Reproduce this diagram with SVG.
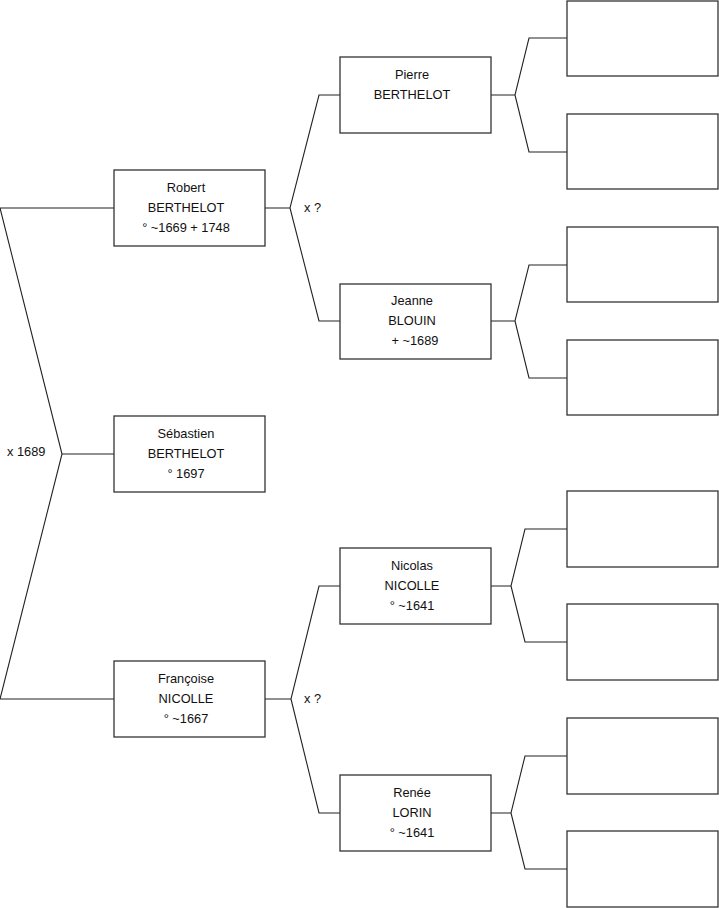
<svg xmlns="http://www.w3.org/2000/svg" width="719" height="908" viewBox="0 0 719 908">
<style>
.box{fill:#fff;stroke:#333;stroke-width:1.3}
.ln{fill:none;stroke:#222;stroke-width:1.1}
text{font-family:"Liberation Sans",Arial,sans-serif;font-size:12.8px;fill:#111}
.c{text-anchor:middle}
</style>
<rect width="719" height="908" fill="#fff"/>
<g id="connectors">
<path class="ln" d="M114,208 H0 L62,454 L0,699 H114 M62,454 H114"/>
<path class="ln" d="M265,208 H290 L319,95 H340 M290,208 L319,321 H340"/>
<path class="ln" d="M265,699 H291 L319,586 H340 M291,699 L319,813 H340"/>
<path class="ln" d="M491,95 H515 L529,38 H567 M515,95 L529,152 H567"/>
<path class="ln" d="M491,321 H515 L529,265 H567 M515,321 L529,378 H567"/>
<path class="ln" d="M491,586 H511 L525,529 H567 M511,586 L525,642 H567"/>
<path class="ln" d="M491,813 H511 L525,756 H567 M511,813 L525,869 H567"/>
<text x="7" y="455.5">x 1689</text>
<text x="304" y="211.5">x ?</text>
<text x="304" y="702.5">x ?</text>
</g>
<g id="robert"><rect class="box" x="114" y="170" width="151" height="76"/>
<text class="c" x="186" y="191.5">Robert</text><text class="c" x="186" y="211.5">BERTHELOT</text><text class="c" x="186" y="231.5">° ~1669 + 1748</text></g>
<g id="sebastien"><rect class="box" x="114" y="416" width="151" height="76"/>
<text class="c" x="186" y="437.5">Sébastien</text><text class="c" x="186" y="457.5">BERTHELOT</text><text class="c" x="186" y="477.5">° 1697</text></g>
<g id="francoise"><rect class="box" x="114" y="661" width="151" height="76"/>
<text class="c" x="186" y="682.5">Françoise</text><text class="c" x="186" y="702.5">NICOLLE</text><text class="c" x="186" y="722.5">° ~1667</text></g>
<g id="pierre"><rect class="box" x="340" y="57" width="151" height="76"/>
<text class="c" x="412" y="78.5">Pierre</text><text class="c" x="412" y="98.5">BERTHELOT</text></g>
<g id="jeanne"><rect class="box" x="340" y="284" width="151" height="75"/>
<text class="c" x="412" y="304.5">Jeanne</text><text class="c" x="412" y="324.5">BLOUIN</text><text class="c" x="415" y="344.5">+ ~1689</text></g>
<g id="nicolas"><rect class="box" x="340" y="548" width="151" height="76"/>
<text class="c" x="412" y="589.5" dy="-20">Nicolas</text><text class="c" x="412" y="589.5">NICOLLE</text><text class="c" x="412" y="609.5">° ~1641</text></g>
<g id="renee"><rect class="box" x="340" y="775" width="151" height="76"/>
<text class="c" x="412" y="796.5">Renée</text><text class="c" x="412" y="816.5">LORIN</text><text class="c" x="412" y="836.5">° ~1641</text></g>
<g id="g3a"><rect class="box" x="567" y="1" width="151" height="75"/></g>
<g id="g3b"><rect class="box" x="567" y="114" width="151" height="75"/></g>
<g id="g3c"><rect class="box" x="567" y="227" width="151" height="75"/></g>
<g id="g3d"><rect class="box" x="567" y="340" width="151" height="75"/></g>
<g id="g3e"><rect class="box" x="567" y="491" width="151" height="76"/></g>
<g id="g3f"><rect class="box" x="567" y="604" width="151" height="76"/></g>
<g id="g3g"><rect class="box" x="567" y="718" width="151" height="76"/></g>
<g id="g3h"><rect class="box" x="567" y="831" width="151" height="76"/></g>
</svg>
